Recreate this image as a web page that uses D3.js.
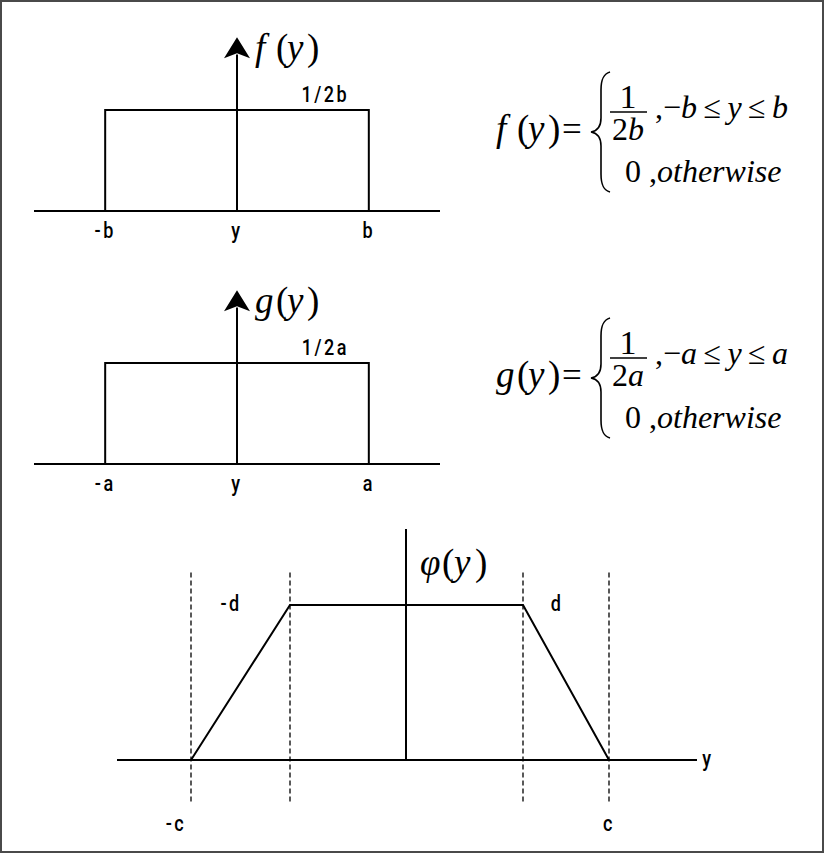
<!DOCTYPE html>
<html><head><meta charset="utf-8">
<script src="https://cdn.jsdelivr.net/npm/d3@7"></script>
<style>body{margin:0;background:#fff}svg{display:block}</style>
</head><body>
<svg id="c" width="825" height="854"></svg>
<script>
// ---------- data ----------
const rectPanels = ["f", "g"];
const rectEdges = [-1, 1];                 // -b..b , -a..a (normalised)
const rectHeight = 1;                      // 1/2b , 1/2a (normalised)
const rectTickLabels = [["-b", "y", "b"], ["-a", "y", "a"]];
const rectHeightLabels = ["1/2b", "1/2a"];
const rectParams = ["b", "a"];

const trapX = [-2.15, -1.16, 1.17, 2.03];  // -c, -d, d, c
const trapY = [0, 1, 1, 0];
const trapTopLabels = ["-d", "d"];
const trapBottomLabels = ["-c", "c"];

// ---------- drawing ----------
const svg = d3.select("#c");
const serif = "'Liberation Serif','Times New Roman',serif";
const sans = "Roboto,'Liberation Sans',sans-serif";
const ink = "#000";

svg.append("rect").attr("x", 1).attr("y", 1).attr("width", 822).attr("height", 851)
  .attr("fill", "none").attr("stroke", "#4a4a4a").attr("stroke-width", 2);

// parts: [text, italic, fontSize, xOffset]
function mathText(parent, x, y, parts, opts = {}) {
  const t = parent.append("text")
    .attr("transform", `translate(${x},${y})`)
    .attr("font-family", serif).attr("font-size", opts.size || 32)
    .attr("text-anchor", opts.anchor || "start").attr("fill", ink);
  parts.forEach(p => {
    const s = t.append("tspan").text(p[0]).attr("font-style", p[1] ? "italic" : "normal");
    if (p[2]) s.attr("font-size", p[2]);
    if (p[3] !== undefined) s.attr("x", p[3]);
  });
  return t;
}
function funcLabel(parent, x, y, name, offs) {
  return mathText(parent, x, y, [[name, true, 37, 0], ["(", false, 37, offs[0]], ["y", true, 37, offs[1]], [")", false, 37, offs[2]]]);
}

function sansLabel(parent, x, y, txt) {
  parent.append("text").attr("transform", `translate(${x},${y}) scale(0.82,1)`).text(txt)
    .attr("font-family", sans).attr("font-size", 22).attr("font-weight", 500).attr("letter-spacing", 3)
    .attr("text-anchor", "middle").attr("fill", ink);
}

const baselines = [211, 464];
const formulaBar = [112, 358];
rectPanels.forEach((name, i) => {
  const g = svg.append("g");
  const x = d3.scaleLinear().domain([-1.54, 1.54]).range([34, 440]);
  const y = d3.scaleLinear().domain([0, 1]).range([baselines[i], baselines[i] - 101]);
  const line = d3.line().x(d => x(d[0])).y(d => y(d[1]));
  g.append("path").attr("d", line([[-1.54, 0], [1.54, 0]])).attr("stroke", ink).attr("stroke-width", 2).attr("fill", "none");
  g.append("path").attr("d", line([[rectEdges[0], 0], [rectEdges[0], rectHeight], [rectEdges[1], rectHeight], [rectEdges[1], 0]]))
    .attr("stroke", ink).attr("stroke-width", 2).attr("fill", "none");
  const tipV = 1.72;
  g.append("path").attr("d", line([[0, 0], [0, 1.55]])).attr("stroke", ink).attr("stroke-width", 2).attr("fill", "none");
  const tx = x(0), ty = y(tipV);
  g.append("path").attr("d", `M${tx},${ty} L${tx - 13},${ty + 21} L${tx},${ty + 16} L${tx + 13},${ty + 21} Z`).attr("fill", ink);
  [rectEdges[0], 0, rectEdges[1]].forEach((v, k) => sansLabel(g, x(v), y(0) + 27, rectTickLabels[i][k]));
  sansLabel(g, x(0.67), y(rectHeight) - 8, rectHeightLabels[i]);
  funcLabel(g, tx + 18, ty + 23, name, [21, 32, 52]);

  // formula
  const fx = 496, by = formulaBar[i];
  const fg = svg.append("g");
  funcLabel(fg, fx, by + 29, name, [21, 32, 52]);
  mathText(fg, 562, by + 29, [["=", false, 35]]);
  const bx = 601, bt = by - 40, bb = by + 80, bm = (bt + bb) / 2;
  fg.append("path").attr("d",
    `M${bx + 9},${bt} C${bx + 2},${bt + 2} ${bx},${bt + 8} ${bx},${bt + 18} L${bx},${bm - 14}
     C${bx},${bm - 5} ${bx - 4},${bm - 1} ${bx - 10},${bm} C${bx - 4},${bm + 1} ${bx},${bm + 5} ${bx},${bm + 14}
     L${bx},${bb - 18} C${bx},${bb - 8} ${bx + 2},${bb - 2} ${bx + 9},${bb}`)
    .attr("fill", "none").attr("stroke", ink).attr("stroke-width", 1.6);
  mathText(fg, 628, by - 4, [["1", false, 34]], { anchor: "middle" });
  fg.append("line").attr("x1", 610).attr("x2", 647).attr("y1", by).attr("y2", by).attr("stroke", ink).attr("stroke-width", 1.6);
  mathText(fg, 628, by + 28, [["2", false], [rectParams[i], true]], { anchor: "middle" });
  mathText(fg, 655, by + 6, [[",", false], ["\u2212", false], [rectParams[i], true], ["\u2009\u2264\u2009", false], ["y", true], ["\u2009\u2264\u2009", false], [rectParams[i], true]]);
  mathText(fg, 625, by + 70, [["0", false], [" ,", false], ["otherwise", true]]);
});

// ---------- trapezoid ----------
{
  const g = svg.append("g");
  const x = d3.scaleLinear().domain([-2.89, 2.91]).range([117, 697]);
  const y = d3.scaleLinear().domain([0, 1]).range([760, 605]);
  const line = d3.line().x(d => x(d[0])).y(d => y(d[1]));
  trapX.forEach(v => {
    g.append("path").attr("d", line([[v, 1.21], [v, -0.27]]))
      .attr("stroke", ink).attr("stroke-width", 1.3).attr("stroke-dasharray", "5,3").attr("fill", "none");
  });
  g.append("path").attr("d", line([[-2.89, 0], [2.91, 0]])).attr("stroke", ink).attr("stroke-width", 2).attr("fill", "none");
  g.append("path").attr("d", line([[0, 0], [0, 1.49]])).attr("stroke", ink).attr("stroke-width", 2).attr("fill", "none");
  g.append("path").attr("d", line(trapX.map((v, k) => [v, trapY[k]]))).attr("stroke", ink).attr("stroke-width", 2)
    .attr("fill", "none").attr("stroke-linejoin", "miter");
  sansLabel(g, x(-1.75), 611, trapTopLabels[0]);
  sansLabel(g, x(1.51), 611, trapTopLabels[1]);
  sansLabel(g, x(trapX[0]) - 15, 831, trapBottomLabels[0]);
  sansLabel(g, x(trapX[3]), 831, trapBottomLabels[1]);
  sansLabel(g, x(2.91) + 11, 766, "y");
  funcLabel(g, x(0) + 14, 575, "\u03C6", [22, 34, 55]);
}
</script>
</body></html>
